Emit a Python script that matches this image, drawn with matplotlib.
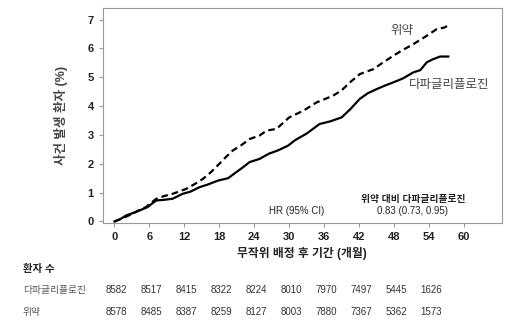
import numpy as np
import matplotlib
matplotlib.use("Agg")
import matplotlib.pyplot as plt
import matplotlib.transforms as mtransforms

plt.rcParams['font.family'] = ['Liberation Sans', 'Noto Sans CJK KR', 'DejaVu Sans']

# dapagliflozin (solid)
months_d = [0, 1, 2, 3, 4.3, 5.7, 6.3, 7.2, 8.5, 10, 11.7, 13, 14.6, 16, 17.8, 19.5, 20.9, 22, 23.2,
            24.9, 26.5, 28, 29.8, 31, 33, 35.2, 37, 39, 40.5, 42.1, 43.5, 45, 46.5, 47.8, 49.5, 51.3,
            52.5, 53.6, 54.7, 55.9, 57.3]
pct_d = [0, 0.08, 0.21, 0.28, 0.38, 0.5, 0.6, 0.73, 0.75, 0.79, 0.96, 1.03, 1.19, 1.28, 1.42, 1.5, 1.71,
         1.87, 2.06, 2.17, 2.35, 2.46, 2.63, 2.82, 3.05, 3.38, 3.47, 3.61, 3.9, 4.25, 4.45, 4.59, 4.72,
         4.82, 4.96, 5.17, 5.25, 5.52, 5.63, 5.72, 5.72]
# placebo (dashed)
months_p = [0, 1.5, 3.1, 4.3, 5.4, 6.3, 7.2, 8.5, 10, 12.3, 13.8, 15.2, 16.5, 18, 19.2, 20.3, 21.8, 23.2,
            24.9, 26.1, 27.8, 30, 32.5, 34.7, 37.5, 39, 40.4, 42.1, 44.4, 46, 47.8, 49.5, 51.3, 53.6,
            55.3, 56.7, 57.3]
pct_p = [0, 0.12, 0.27, 0.4, 0.5, 0.65, 0.79, 0.88, 0.96, 1.13, 1.3, 1.48, 1.7, 2.0, 2.25, 2.46, 2.65,
         2.86, 2.98, 3.15, 3.21, 3.61, 3.85, 4.13, 4.36, 4.55, 4.82, 5.11, 5.28, 5.5, 5.74, 5.95, 6.15,
         6.44, 6.67, 6.73, 6.81]

risk_months = [0, 6, 12, 18, 24, 30, 36, 42, 48, 54]
risk_d = [8582, 8517, 8415, 8322, 8224, 8010, 7970, 7497, 5445, 1626]
risk_p = [8578, 8485, 8387, 8259, 8127, 8003, 7880, 7367, 5362, 1573]

fig = plt.figure(figsize=(5.3, 3.24), dpi=100)
ax = fig.add_axes([0.194, 0.312, 0.753, 0.663])

ax.plot(months_d, pct_d, color='black', lw=1.6)
ax.plot(months_p, pct_p, color='black', lw=1.6, ls=(0, (3, 1.8)))

ax.set_xlim(-2, 66.5)
ax.set_ylim(-0.05, 7.4)
ax.set_xticks(range(0, 61, 6))
ax.set_yticks(range(0, 8))
for s in ax.spines.values():
    s.set_color('#999999')
    s.set_linewidth(0.8)
ax.tick_params(colors='#999999', labelcolor='#222222', length=3, width=0.8, labelsize=8)
for lab in ax.get_xticklabels() + ax.get_yticklabels():
    lab.set_fontweight('bold')

ax.set_ylabel('사건 발생 환자 (%)', fontsize=9, fontweight='bold', color='#444444', labelpad=14)
ax.set_xlabel('무작위 배정 후 기간 (개월)', fontsize=8.5, fontweight='bold', color='#222222', labelpad=4)

ax.text(49.3, 6.6, '위약', fontsize=9, color='#444444', ha='center', va='center')
ax.text(57.5, 4.73, '다파글리플로진', fontsize=9, color='#444444', ha='center', va='center')
ax.text(51.2, 0.78, '위약 대비 다파글리플로진', fontsize=7, fontweight='bold', color='#222222', ha='center', va='center')
ax.text(51.2, 0.36, '0.83 (0.73, 0.95)', fontsize=7, color='#222222', ha='center', va='center')
ax.text(31.3, 0.36, 'HR (95% CI)', fontsize=7, color='#222222', ha='center', va='center')

trans = mtransforms.blended_transform_factory(ax.transData, fig.transFigure)
fig.text(23 / 530, 1 - 269 / 324, '환자 수', fontsize=7.5, fontweight='bold', color='#222222', va='center')
fig.text(23 / 530, 1 - 290 / 324, '다파글리플로진', fontsize=7, color='#555555', va='center')
fig.text(23 / 530, 1 - 312 / 324, '위약', fontsize=7, color='#555555', va='center')
for m, a, b in zip(risk_months, risk_d, risk_p):
    ax.text(m + 0.3, 1 - 290 / 324, str(a), transform=trans, fontsize=7, color='#333333', ha='center', va='center')
    ax.text(m + 0.3, 1 - 312 / 324, str(b), transform=trans, fontsize=7, color='#333333', ha='center', va='center')

fig.savefig('out.png', dpi=100)
